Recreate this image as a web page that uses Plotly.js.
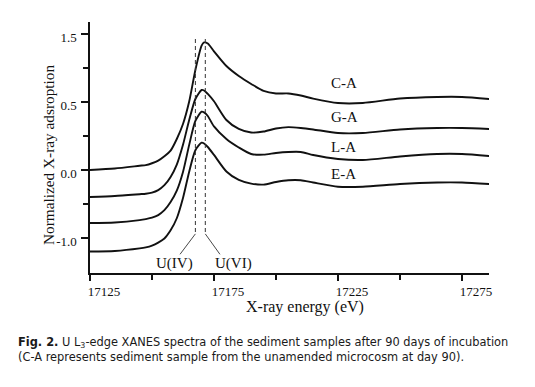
<!DOCTYPE html>
<html>
<head>
<meta charset="utf-8">
<script src="https://cdn.plot.ly/plotly-3.0.1.min.js"></script>
<style>
html,body{margin:0;padding:0;background:#fff;}
#chart{width:535px;height:387px;}
</style>
</head>
<body>
<div id="chart"></div>
<script>
// X-ray energy (eV)
var energy = [17125, 17135, 17145, 17147.5, 17150, 17152.5, 17155, 17157.5, 17160, 17162.5, 17165, 17167.5, 17170, 17171, 17172.5, 17175, 17180, 17185, 17190, 17195, 17200, 17205, 17210, 17215, 17225, 17235, 17250, 17265, 17275, 17286];
// Normalized absorption (offset, in axis units)
var caA = [0.000, 0.022, 0.062, 0.072, 0.099, 0.137, 0.201, 0.285, 0.456, 0.676, 1.007, 1.471, 1.829, 1.875, 1.860, 1.745, 1.529, 1.382, 1.265, 1.162, 1.125, 1.125, 1.095, 1.050, 0.985, 0.985, 1.051, 1.074, 1.074, 1.044];
var gaA = [-0.397, -0.382, -0.356, -0.349, -0.334, -0.297, -0.224, -0.103, 0.079, 0.371, 0.735, 1.044, 1.176, 1.169, 1.118, 1.010, 0.735, 0.603, 0.550, 0.565, 0.610, 0.630, 0.618, 0.596, 0.544, 0.544, 0.596, 0.618, 0.618, 0.603];
var laA = [-0.779, -0.772, -0.737, -0.722, -0.701, -0.663, -0.591, -0.471, -0.304, -0.029, 0.369, 0.721, 0.857, 0.846, 0.794, 0.640, 0.456, 0.331, 0.235, 0.225, 0.250, 0.265, 0.265, 0.220, 0.162, 0.147, 0.199, 0.235, 0.235, 0.206];
var eaA = [-1.199, -1.191, -1.153, -1.138, -1.112, -1.068, -1.007, -0.887, -0.710, -0.412, -0.025, 0.291, 0.401, 0.390, 0.338, 0.221, -0.022, -0.147, -0.200, -0.215, -0.176, -0.150, -0.150, -0.184, -0.246, -0.246, -0.206, -0.184, -0.184, -0.206];
var seriesNames = ["C-A", "G-A", "L-A", "E-A"];
var refEnergies = [17167.5, 17171.5];
var refLabels = ["U(IV)", "U(VI)"];
var xTickVals = [17125, 17175, 17225, 17275];
var xTickText = ["17125", "17175", "17225", "17275"];
var xMinorVals = [17150, 17200, 17250];
var yTickVals = [2, 1, 0, -1];
var yTickText = ["1.5", "0.5", "0.0", "-1.0"];
var yMinorVals = [1.5, 0.5, -0.5];

var series = [caA, gaA, laA, eaA];
var serif = "Liberation Serif, Times New Roman, serif";
var traces = series.map(function (s, i) {
  return {
    x: energy, y: s, type: "scatter", mode: "lines", name: seriesNames[i],
    line: {color: "#111", width: 1.9, shape: "spline", smoothing: 0.7},
    hoverinfo: "skip", showlegend: false
  };
});

var labelY = [1.28, 0.78, 0.34, -0.06];
var annotations = seriesNames.map(function (n, i) {
  return {x: 17221.5, y: labelY[i], xref: "x", yref: "y", text: n, showarrow: false,
    xanchor: "left", yanchor: "middle", font: {family: serif, size: 15, color: "#111"}};
});
var leaderEnd = [17161.3, 17177.4];
var shapes = [];
refEnergies.forEach(function (e, i) {
  shapes.push({type: "line", xref: "x", yref: "y", x0: e, x1: e, y0: 1.926, y1: -0.94,
    line: {color: "#333", width: 1, dash: "4px,3px"}});
  shapes.push({type: "line", xref: "x", yref: "y", x0: e, x1: leaderEnd[i], y0: -0.94, y1: -1.24,
    line: {color: "#333", width: 0.9}});
  annotations.push({x: i === 0 ? 17158.9 : 17182.7, y: -1.37, xref: "x", yref: "y", text: refLabels[i],
    showarrow: false, xanchor: "center", yanchor: "middle", font: {family: serif, size: 15, color: "#111"}});
});
// faint band above caption
shapes.push({type: "rect", xref: "paper", yref: "paper", x0: -0.2, x1: 1.15, y0: -0.47, y1: -0.49,
  line: {width: 0}, fillcolor: "#f3f3f3", layer: "below"});

annotations.push({xref: "paper", yref: "paper", x: (305 - 90) / 399, y: -(307 - 273) / 251, text: "X-ray energy (eV)",
  showarrow: false, xanchor: "center", yanchor: "middle", font: {family: serif, size: 16, color: "#111"}});
annotations.push({xref: "paper", yref: "paper", x: -(90 - 48) / 399, y: (273 - 155) / 251, text: "Normalized X-ray adsroption",
  showarrow: false, textangle: -90, xanchor: "center", yanchor: "middle", font: {family: serif, size: 15.3, color: "#111"}});
var capFont = {family: "DejaVu Sans, Verdana, sans-serif", size: 11.4, color: "#1a1a1a"};
annotations.push({xref: "paper", yref: "paper", x: -(90 - 16) / 399, y: -(349.5 - 273) / 251, showarrow: false,
  xanchor: "left", yanchor: "middle", align: "left", font: capFont,
  text: "<b>Fig. 2.</b> U L<sub>3</sub>-edge XANES spectra of the sediment samples after 90 days of incubation<br>(C-A represents sediment sample from the unamended microcosm at day 90)."});

var layout = {
  width: 535, height: 387,
  margin: {l: 90, r: 46, t: 22, b: 114, pad: 0},
  paper_bgcolor: "#fff", plot_bgcolor: "#fff",
  font: {family: serif, color: "#111"},
  xaxis: {range: [17125, 17285.9], tickmode: "array", tickvals: xTickVals, ticktext: xTickText,
    ticks: "outside", ticklen: 6, tickwidth: 1.5, tickcolor: "#111", showline: true, linecolor: "#111", linewidth: 1.6,
    minor: {tickmode: "array", tickvals: xMinorVals, ticks: "outside", ticklen: 5, tickwidth: 1.5, tickcolor: "#111", showgrid: false},
    showgrid: false, zeroline: false, tickfont: {family: serif, size: 13, color: "#111"}, ticklabelshift: 14},
  yaxis: {range: [-1.515, 2.176], tickmode: "array", tickvals: yTickVals, ticktext: yTickText,
    ticks: "outside", ticklen: 7, tickwidth: 1.5, tickcolor: "#111", showline: true, linecolor: "#111", linewidth: 1.6,
    minor: {tickmode: "array", tickvals: yMinorVals, ticks: "outside", ticklen: 5, tickwidth: 1.5, tickcolor: "#111", showgrid: false},
    showgrid: false, zeroline: false, tickfont: {family: serif, size: 13, color: "#111"}, ticklabelshift: 3, ticklabelstandoff: 2},
  annotations: annotations,
  shapes: shapes,
  showlegend: false
};
Plotly.newPlot("chart", traces, layout, {staticPlot: true, displayModeBar: false});
</script>
</body>
</html>
